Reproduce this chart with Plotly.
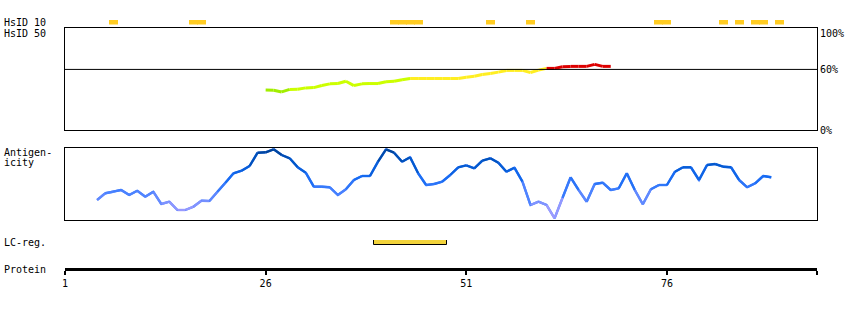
import plotly.graph_objects as go

# ---------------- data ----------------
protein_end = 94.7
tick_vals = [1, 26, 51, 76, protein_end]
tick_text = ["1", "26", "51", "76", ""]

hsid10_residues = [7, 17, 18, 42, 43, 44, 45, 54, 59, 75, 76, 83, 85, 87, 88, 90]

hsid50_start = 26
hsid50_values = [39.5, 39.3, 37.7, 40.2, 40.3, 41.7, 42.0, 44.0, 45.7, 46.0,
                 48.3, 44.0, 45.7, 46.0, 46.0, 47.7, 48.3, 49.7, 51.0, 51.0,
                 51.0, 51.0, 51.0, 51.0, 51.0, 52.3, 53.3, 55.0, 56.0, 57.3,
                 59.0, 59.0, 59.0, 57.0, 59.3, 61.0, 61.0, 62.7, 63.0, 63.0,
                 63.0, 65.0, 63.0, 63.0]
hsid_threshold = 60
pct_labels = [0, 60, 100]

antigen_start = 5
antigen_values = [20.0, 26.7, 28.3, 30.0, 25.0, 29.3, 23.3, 28.3, 16.0, 18.3,
                  10.0, 10.0, 13.3, 19.3, 19.0, 28.3, 37.3, 46.7, 49.3, 54.0,
                  67.3, 67.7, 70.7, 65.0, 61.7, 52.7, 47.3, 33.3, 33.3, 32.7,
                  25.0, 30.7, 40.0, 44.0, 44.0, 58.3, 70.7, 67.3, 58.3, 62.7,
                  46.7, 35.0, 36.0, 38.3, 45.0, 52.7, 54.7, 51.7, 59.3, 61.7,
                  57.3, 48.3, 52.3, 38.3, 15.0, 18.3, 15.0, 1.7, 22.3, 42.7,
                  30.0, 18.3, 36.0, 37.3, 30.0, 31.7, 46.7, 30.0, 15.7, 30.7,
                  35.0, 35.0, 48.3, 52.7, 52.7, 40.0, 55.0, 56.0, 53.3, 52.7,
                  40.0, 32.7, 36.7, 44.0, 42.7]
antigen_max = 72

lc_region = (40, 48)

# ---------------- helpers ----------------
W, H = 850, 310
FONT = "DejaVu Sans Mono"


def py(pix):
    return 1 - pix / H


def px(pix):
    return pix / W


def hsid_color(v):
    if v < 40:
        return "#a2ee00"
    if v < 50:
        return "#ccff00"
    if v < 60:
        return "#ffee22"
    return "#dd0000"


stops = [(0.0, (0xb4, 0xa4, 0xff)), (0.2, (0x8c, 0x96, 0xff)),
         (0.4, (0x44, 0x80, 0xff)), (0.6, (0x14, 0x6a, 0xf2)),
         (0.8, (0x00, 0x56, 0xc8)), (1.0, (0x00, 0x40, 0x90))]


def antigen_color(v):
    t = max(0.0, min(1.0, v / antigen_max))
    for (t0, c0), (t1, c1) in zip(stops[:-1], stops[1:]):
        if t <= t1:
            f = (t - t0) / (t1 - t0)
            c = [round(a + (b - a) * f) for a, b in zip(c0, c1)]
            return "rgb(%d,%d,%d)" % tuple(c)
    return "rgb(0,64,144)"


fig = go.Figure()

# HsID 10 track
fig.add_trace(go.Bar(x=hsid10_residues, y=[1] * len(hsid10_residues), width=1.12,
                     marker=dict(color="#ffcc22", line=dict(width=0)),
                     xaxis="x", yaxis="y", hoverinfo="skip", showlegend=False))

# HsID 50 line
hx = [hsid50_start + i for i in range(len(hsid50_values))]
for i in range(len(hx) - 1):
    fig.add_trace(go.Scatter(x=hx[i:i + 2], y=hsid50_values[i:i + 2], mode="lines",
                             line=dict(color=hsid_color(hsid50_values[i]), width=3),
                             xaxis="x2", yaxis="y2", hoverinfo="skip", showlegend=False))

# Antigenicity line
ax = [antigen_start + i for i in range(len(antigen_values))]
fig.add_trace(go.Scatter(x=ax, y=antigen_values, mode="lines",
                         line=dict(color="#3d7bff", width=2.2),
                         xaxis="x3", yaxis="y3", hoverinfo="skip", showlegend=False))
for i in range(len(ax) - 1):
    c = antigen_color((antigen_values[i] + antigen_values[i + 1]) / 2)
    fig.add_trace(go.Scatter(x=ax[i:i + 2], y=antigen_values[i:i + 2], mode="lines",
                             line=dict(color=c, width=2.4),
                             xaxis="x3", yaxis="y3", hoverinfo="skip", showlegend=False))

# LC-reg
fig.add_trace(go.Bar(x=[(lc_region[0] + lc_region[1]) / 2], y=[1],
                     width=lc_region[1] - lc_region[0] + 1.1,
                     marker=dict(color="#f2d33b", line=dict(color="black", width=1)),
                     xaxis="x", yaxis="y4", hoverinfo="skip", showlegend=False))

# 60% threshold line
fig.add_shape(type="line", xref="x2 domain", x0=0, x1=1, yref="y2",
              y0=hsid_threshold, y1=hsid_threshold, line=dict(color="black", width=1))

xdom = [px(65), px(817)]
box = dict(showline=True, mirror=True, linecolor="black", linewidth=1,
           showgrid=False, zeroline=False, ticks="", showticklabels=False,
           automargin=False)

fig.update_layout(
    width=W, height=H, margin=dict(l=0, r=0, t=0, b=0, pad=0),
    paper_bgcolor="white", plot_bgcolor="white", bargap=0,
    font=dict(family=FONT, size=10, color="black"),
    xaxis=dict(domain=xdom, range=[1, protein_end], anchor="free", position=py(269),
               showline=True, linecolor="black", linewidth=3,
               ticks="outside", ticklen=4, tickwidth=2, tickcolor="black",
               tickvals=tick_vals, ticktext=tick_text,
               tickfont=dict(family=FONT, size=10, color="black"),
               showgrid=False, zeroline=False, automargin=False),
    xaxis2=dict(domain=xdom, range=[1, protein_end], anchor="y2", **box),
    xaxis3=dict(domain=xdom, range=[1, protein_end], anchor="y3", **box),
    yaxis=dict(domain=[py(24.5), py(20)], range=[0, 1], anchor="x", visible=False,
               automargin=False),
    yaxis2=dict(domain=[py(130), py(28)], range=[0, 101], anchor="x2", **box),
    yaxis3=dict(domain=[py(220), py(148)], range=[0, antigen_max], anchor="x3", **box),
    yaxis4=dict(domain=[py(245), py(240)], range=[0, 1], anchor="x", visible=False,
                automargin=False),
)

# percentage labels
for v in pct_labels:
    fig.add_annotation(text="%d%%" % v, xref="x2 domain", x=1, xanchor="left", xshift=1,
                       yref="y2", y=v, yanchor="middle", yshift=-4 if v == 100 else 0,
                       showarrow=False, font=dict(family=FONT, size=10, color="black"))

# left labels
left_labels = [("HsID 10", 22.5), ("HsID 50", 33.5), ("Antigen-", 152.5),
               ("icity", 162.5), ("LC-reg.", 242.5), ("Protein", 269.5)]
for t, yp in left_labels:
    fig.add_annotation(text=t, xref="paper", x=px(2), xanchor="left",
                       yref="paper", y=py(yp), yanchor="middle", showarrow=False,
                       font=dict(family=FONT, size=10, color="black"))

fig.write_html("out.html")
